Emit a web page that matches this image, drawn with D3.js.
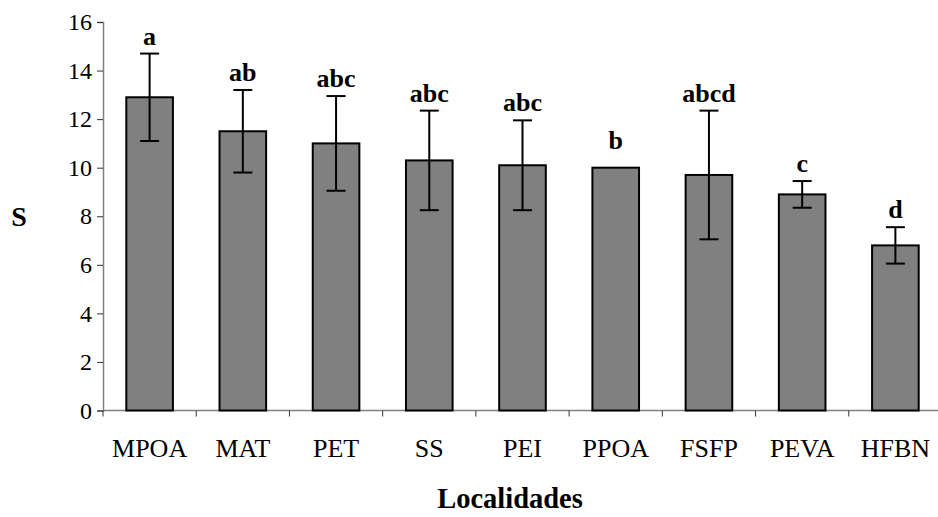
<!DOCTYPE html>
<html>
<head>
<meta charset="utf-8">
<script src="https://cdn.jsdelivr.net/npm/d3@7"></script>
</head>
<body style="margin:0">
<script>
const categories = ['MPOA', 'MAT', 'PET', 'SS', 'PEI', 'PPOA', 'FSFP', 'PEVA', 'HFBN'];
const means = [12.9, 11.5, 11.0, 10.3, 10.1, 10.0, 9.7, 8.9, 6.8];
const errors = [1.8, 1.7, 1.95, 2.05, 1.85, 0, 2.65, 0.55, 0.75];
const letters = ['a', 'ab', 'abc', 'abc', 'abc', 'b', 'abcd', 'c', 'd'];
const yTicks = [0, 2, 4, 6, 8, 10, 12, 14, 16];

const w = 938;
const h = 517;
const plotLeft = 103, plotRight = 942, plotTop = 22, plotBottom = 410.5;
const FONT = "'Liberation Serif'";

const svg = d3.select('body')
    .append('svg')
    .attr('width', w)
    .attr('height', h);

const x = d3.scaleBand()
    .domain(categories)
    .range([plotLeft, plotRight])
    .paddingInner(0.5)
    .paddingOuter(0.25);
const y = d3.scaleLinear()
    .domain([0, 16])
    .range([plotBottom, plotTop]);

// y axis
const yAxis = d3.axisLeft(y).tickValues(yTicks).tickSize(6).tickPadding(5);
const gy = svg.append('g')
    .attr('transform', 'translate(' + plotLeft + ',0)')
    .call(yAxis);
gy.select('.domain').attr('stroke', '#808080').attr('stroke-width', 1.5);
gy.selectAll('.tick line').attr('stroke', '#333');
gy.selectAll('.tick text')
    .attr('fill', '#000')
    .attr('font-family', FONT)
    .attr('font-size', 24)
    .style('font-family', FONT, 'important');

// x axis line + ticks at band boundaries
const half = (x.step() - x.bandwidth()) / 2;
svg.append('line')
    .attr('x1', plotLeft).attr('x2', plotRight)
    .attr('y1', y(0)).attr('y2', y(0))
    .attr('stroke', '#808080').attr('stroke-width', 1.5);
svg.selectAll('.xtick')
    .data(categories)
    .enter()
    .append('line')
    .attr('class', 'xtick')
    .attr('x1', d => x(d) - half)
    .attr('x2', d => x(d) - half)
    .attr('y1', y(0))
    .attr('y2', y(0) + 6)
    .attr('stroke', '#333');

// bars
svg.selectAll('.bar')
    .data(categories)
    .enter()
    .append('rect')
    .attr('class', 'bar')
    .attr('x', d => x(d))
    .attr('y', (d, i) => y(means[i]))
    .attr('width', x.bandwidth())
    .attr('height', (d, i) => y(0) - y(means[i]))
    .attr('fill', '#808080')
    .attr('stroke', '#000')
    .attr('stroke-width', 2);

// error bars
const cap = 9.5;
categories.forEach((c, i) => {
    if (errors[i] <= 0) return;
    const cx = x(c) + x.bandwidth() / 2;
    const g = svg.append('g').attr('stroke', '#000').attr('stroke-width', 2);
    g.append('line')
        .attr('x1', cx).attr('x2', cx)
        .attr('y1', y(means[i] - errors[i])).attr('y2', y(means[i] + errors[i]));
    [means[i] - errors[i], means[i] + errors[i]].forEach(v => {
        g.append('line')
            .attr('x1', cx - cap).attr('x2', cx + cap)
            .attr('y1', y(v)).attr('y2', y(v));
    });
});

// significance letters
svg.selectAll('.letter')
    .data(categories)
    .enter()
    .append('text')
    .attr('class', 'letter')
    .attr('x', d => x(d) + x.bandwidth() / 2)
    .attr('y', (d, i) => Math.min(y(means[i] + errors[i]) - 9, y(means[i]) - 19))
    .attr('text-anchor', 'middle')
    .attr('font-family', FONT)
    .attr('font-size', 26)
    .attr('font-weight', 'bold')
    .style('font-family', FONT, 'important')
    .text((d, i) => letters[i]);

// category labels
svg.selectAll('.cat')
    .data(categories)
    .enter()
    .append('text')
    .attr('class', 'cat')
    .attr('x', d => x(d) + x.bandwidth() / 2)
    .attr('y', y(0) + 46)
    .attr('text-anchor', 'middle')
    .attr('font-family', FONT)
    .attr('font-size', 26)
    .style('font-family', FONT, 'important')
    .text(d => d);

// axis titles
svg.append('text')
    .attr('x', 510)
    .attr('y', 508)
    .attr('text-anchor', 'middle')
    .attr('font-family', FONT)
    .attr('font-size', 28.5)
    .attr('font-weight', 'bold')
    .style('font-family', FONT, 'important')
    .text('Localidades');
svg.append('text')
    .attr('x', 19)
    .attr('y', 226)
    .attr('text-anchor', 'middle')
    .attr('font-family', FONT)
    .attr('font-size', 28)
    .attr('font-weight', 'bold')
    .style('font-family', FONT, 'important')
    .text('S');
</script>
</body>
</html>
